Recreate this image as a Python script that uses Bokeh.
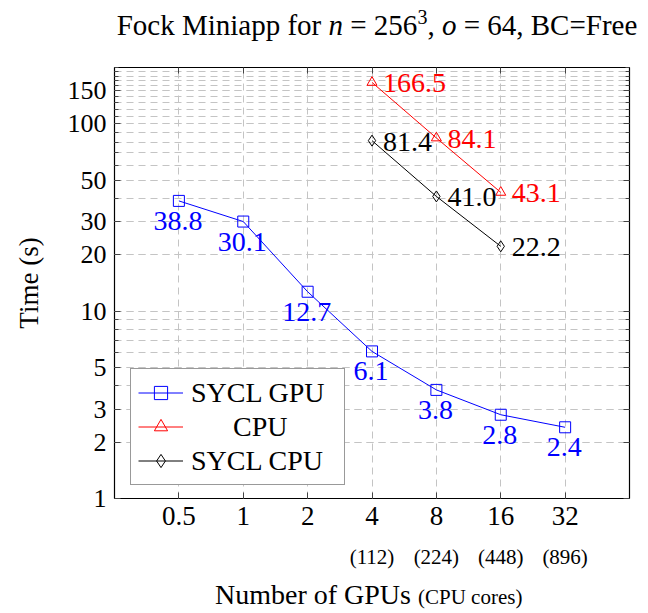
from bokeh.plotting import figure
from bokeh.models import (FixedTicker, LogAxis, CustomJSTickFormatter, Legend, Range1d, Div)
from bokeh.layouts import column
from bokeh.core.properties import value
from bokeh.embed import file_html
from bokeh.resources import INLINE

FONT = "Liberation Serif"

# data
gpus = [0.5, 1, 2, 4, 8, 16, 32]
sycl_gpu = [38.8, 30.1, 12.7, 6.1, 3.8, 2.8, 2.4]
cpu_x = [4, 8, 16]
cpu = [166.5, 84.1, 43.1]
sycl_cpu = [81.4, 41.0, 22.2]
sycl_gpu_labels = ["38.8", "30.1", "12.7", "6.1", "3.8", "2.8", "2.4"]
cpu_labels = ["166.5", "84.1", "43.1"]
sycl_cpu_labels = ["81.4", "41.0", "22.2"]
x_ticks = [0.5, 1, 2, 4, 8, 16, 32]
core_ticks = [4, 8, 16, 32]
core_labels = ["(112)", "(224)", "(448)", "(896)"]
y_ticks = [1, 2, 3, 5, 10, 20, 30, 50, 100, 150]
y_minor = [1, 2, 3, 4, 5, 6, 7, 8, 9, 10, 20, 30, 40, 50, 60, 70, 80, 90,
           100, 110, 120, 130, 140, 150, 160, 170, 180, 190, 200]

title = Div(text=("Fock Miniapp for <i>n</i>&nbsp;=&nbsp;256<sup style='font-size:20px;line-height:0'>3</sup>, "
                  "<i>o</i>&nbsp;=&nbsp;64, BC=Free"),
            width=640, height=45, margin=(0, 0, 0, 0),
            styles={"font-family": FONT, "font-size": "29px", "color": "black", "line-height": "28px",
                    "padding-left": "114px", "padding-top": "11px", "text-align": "center",
                    "white-space": "nowrap", "box-sizing": "border-box"})

p = figure(width=640, height=530, x_axis_type="log", y_axis_type="log",
           x_range=Range1d(0.25, 64), y_range=Range1d(1, 200),
           output_backend="svg", toolbar_location=None,
           min_border_left=114, min_border_right=11, min_border_top=22, min_border_bottom=77)
p.background_fill_color = "white"
p.border_fill_color = "white"
p.outline_line_color = "black"
p.outline_line_width = 1.2

xt = FixedTicker(ticks=x_ticks, minor_ticks=[])
yt = FixedTicker(ticks=y_ticks, minor_ticks=y_minor)
fmt = CustomJSTickFormatter(code="return tick.toString();")
blank = CustomJSTickFormatter(code="return '';")

def style_axis(ax, size="26px"):
    ax.axis_line_color = None
    ax.major_tick_in = 6
    ax.major_tick_out = 0
    ax.minor_tick_in = 4
    ax.minor_tick_out = 0
    ax.major_tick_line_color = "#444444"
    ax.minor_tick_line_color = "#444444"
    ax.major_label_text_font = FONT
    ax.major_label_text_font_size = size
    ax.major_label_text_color = "black"
    ax.axis_label_text_font = FONT
    ax.axis_label_text_font_size = "27px"
    ax.axis_label_text_font_style = "normal"
    ax.axis_label_text_color = "black"

xa = p.xaxis[0]
xa.ticker = xt
xa.formatter = fmt
style_axis(xa, "27px")
xa.major_label_standoff = 8

ya = p.yaxis[0]
ya.ticker = yt
ya.formatter = fmt
style_axis(ya, "26px")
ya.major_label_standoff = 8
ya.axis_label = "Time (s)"
ya.axis_label_standoff = 21

# mirror axes (ticks only)
top = LogAxis(ticker=FixedTicker(ticks=x_ticks, minor_ticks=[]), formatter=blank)
style_axis(top)
top.major_label_standoff = 0
p.add_layout(top, "above")
right = LogAxis(ticker=FixedTicker(ticks=y_ticks, minor_ticks=y_minor), formatter=blank)
style_axis(right)
right.major_label_standoff = 0
p.add_layout(right, "right")

# cores axis
cores_fmt = CustomJSTickFormatter(
    args=dict(t=core_ticks, l=core_labels),
    code="const i = t.indexOf(tick); return i >= 0 ? l[i] : '';")
cores = LogAxis(ticker=FixedTicker(ticks=core_ticks, minor_ticks=[]), formatter=cores_fmt)
cores.axis_line_color = None
cores.major_tick_line_color = None
cores.minor_tick_line_color = None
cores.major_label_text_font = FONT
cores.major_label_text_font_size = "21px"
cores.major_label_text_color = "black"
cores.major_label_standoff = 11
p.add_layout(cores, "below")

# grids
for g in (p.xgrid[0], p.ygrid[0]):
    g.grid_line_color = "#c4c4c4"
    g.grid_line_dash = "7 5"
    g.grid_line_width = 1
p.xgrid[0].ticker = xt
p.ygrid[0].ticker = yt
p.ygrid[0].minor_grid_line_color = "#c4c4c4"
p.ygrid[0].minor_grid_line_dash = "7 5"

# series
r1 = p.line(gpus, sycl_gpu, line_color="blue", line_width=1)
s1 = p.scatter(gpus, sycl_gpu, marker="square", size=11, line_color="blue", fill_color=None, line_width=1)
r2 = p.line(cpu_x, cpu, line_color="red", line_width=1)
s2 = p.scatter(cpu_x, cpu, marker="triangle", size=10, line_color="red", fill_color=None, line_width=1)
r3 = p.line(cpu_x, sycl_cpu, line_color="black", line_width=1)
s3 = p.scatter(cpu_x, sycl_cpu, marker="diamond", size=11, line_color="black", fill_color=None, line_width=1)

p.text(gpus, sycl_gpu, text=sycl_gpu_labels, text_color="blue", text_font=value(FONT),
       text_font_size="28px", text_align="center", text_baseline="alphabetic", y_offset=20, x_offset=-1)
p.text(cpu_x, cpu, text=cpu_labels, text_color="red", text_font=value(FONT),
       text_font_size="28px", text_align="left", text_baseline="alphabetic", x_offset=11, y_offset=1)
p.text(cpu_x, sycl_cpu, text=sycl_cpu_labels, text_color="black", text_font=value(FONT),
       text_font_size="28px", text_align="left", text_baseline="alphabetic", x_offset=11, y_offset=1)

legend = Legend(items=[("SYCL GPU", [r1, s1]), ("\u00a0\u00a0\u00a0\u00a0\u00a0\u00a0CPU", [r2, s2]),
                       ("SYCL CPU", [r3, s3])],
                location=(16, 13))
legend.margin = 0
legend.padding = 7
legend.spacing = 1
legend.glyph_width = 45
legend.glyph_height = 33
legend.label_height = 33
legend.label_width = 146
legend.label_standoff = 8
legend.label_text_font = FONT
legend.label_text_font_size = "28px"
legend.label_text_color = "black"
legend.border_line_color = "#333333"
legend.border_line_width = 1
legend.background_fill_alpha = 1
p.add_layout(legend, "center")

xlabel = Div(text=("<span style='font-size:28px'>Number of GPUs&nbsp;</span>"
                   "<span style='font-size:21px'>(CPU cores)</span>"),
             width=640, height=32, margin=(0, 0, 0, 0),
             styles={"font-family": FONT, "color": "black", "line-height": "28px",
                     "padding-left": "215px", "padding-top": "6px", "white-space": "nowrap"})

layout = column(title, p, xlabel, spacing=0)
open("out.html", "w").write(file_html(layout, INLINE))
